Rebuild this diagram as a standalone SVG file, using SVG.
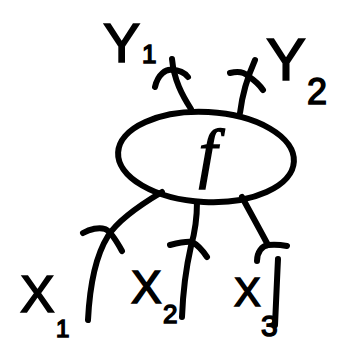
<svg xmlns="http://www.w3.org/2000/svg" width="338" height="350" viewBox="0 0 338 350">
<style>
.ln{fill:none;stroke:#000;stroke-width:6;stroke-linecap:round;stroke-linejoin:round}
.lb{font-family:"Liberation Sans",Arial,sans-serif;fill:#000;stroke:#000;stroke-width:1.5}
.fn{font-family:"Liberation Serif","Times New Roman",serif;font-style:italic;fill:#000;stroke:#000;stroke-width:1.5}
</style>
<rect width="338" height="350" fill="#fff"/>
<g id="connectors">
  <path class="ln" d="M191,109 C182,95 174,80 172,59"/>
  <path class="ln" d="M155,87 C158,74 166,69 172,70 C179,70 184,72 188,77"/>
  <path class="ln" d="M240,113 C242,96 247,78 255,60"/>
  <path class="ln" d="M230,73 C238,71 244,72 248,76 C254,80 259,84 263,90"/>
  <path class="ln" d="M162,192 C140,205 118,220 108,236 C98,252 90,280 88,320"/>
  <path class="ln" d="M83,233 C90,229 99,227 105,229 C110,231 116,240 122,251"/>
  <path class="ln" d="M197,202 C197,220 195,232 191,246 C186,268 183,290 182,317"/>
  <path class="ln" d="M170,245 C178,243 186,241 192,242 C198,245 203,251 207,257"/>
  <path class="ln" d="M242,197 C250,212 259,228 268,245"/>
  <path class="ln" d="M257,261 C257,252 262,246 268,245 C276,244 282,245 287,246"/>
  <path class="ln" d="M278,259 C277,280 276,300 275,325"/>
</g>
<g id="node-f">
  <ellipse class="ln" cx="206" cy="157" rx="88" ry="45" transform="rotate(3 206 157)"/>
  <text class="fn" x="208" y="175" font-size="66" text-anchor="middle">f</text>
</g>
<g id="label-y1">
  <text class="lb" x="103" y="62" font-size="56">Y<tspan x="142" y="63" font-size="26">1</tspan></text>
</g>
<g id="label-y2">
  <text class="lb" x="266" y="80" font-size="60">Y<tspan x="307" y="104" font-size="36">2</tspan></text>
</g>
<g id="label-x1">
  <text class="lb" x="20" y="312" font-size="52">X<tspan x="56" y="337" font-size="24">1</tspan></text>
</g>
<g id="label-x2">
  <text class="lb" x="131" y="303" font-size="46">X<tspan x="163" y="323" font-size="26">2</tspan></text>
</g>
<g id="label-x3">
  <text class="lb" x="234" y="306" font-size="40">X<tspan x="261" y="336" font-size="30">3</tspan></text>
</g>
</svg>
